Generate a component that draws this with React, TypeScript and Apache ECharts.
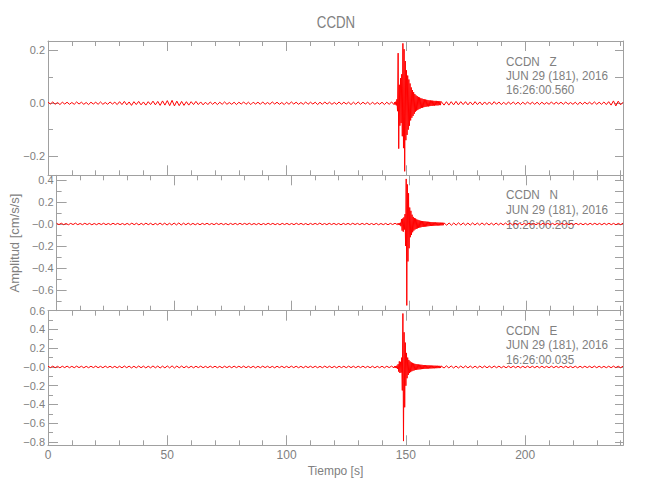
import React, { useEffect, useRef } from "react";
import * as echarts from "echarts";

// ---------- axis definitions ----------
const X_MIN = 0;
const X_MAX = 241;
const X_MAJOR = [0, 50, 100, 150, 200];
const X_MINOR = [10, 20, 30, 40, 60, 70, 80, 90, 110, 120, 130, 140, 160, 170, 180, 190, 210, 220, 230, 240];

// segment starting times / steps (s)
const PRE_START = 0;
const PRE_STEP = 1;
const EVT_START = 145;
const EVT_STEP = 0.25;
const POST_START = 165;
const POST_STEP = 1;

// ---------- Z component (cm/s/s) ----------
const zPre = [
  0.004, -0.003, 0.005, -0.004, 0.003, -0.005, 0.004, -0.003, 0.004, -0.004,
  0.003, -0.004, 0.005, -0.003, 0.004, -0.004, 0.003, -0.005, 0.004, -0.003,
  0.004, -0.004, 0.005, -0.004, 0.003, -0.004, 0.005, -0.003, 0.004, -0.005,
  0.006, -0.005, 0.007, -0.006, 0.005, -0.008, 0.006, -0.005, 0.007, -0.006,
  0.005, -0.007, 0.006, -0.005, 0.008, -0.006, 0.007, -0.008, 0.009, -0.007,
  0.01, -0.009, 0.011, -0.01, 0.008, -0.009, 0.007, -0.008, 0.006, -0.007,
  0.006, -0.005, 0.007, -0.005, 0.005, -0.006, 0.004, -0.005, 0.005, -0.004,
  0.004, -0.005, 0.004, -0.004, 0.005, -0.004, 0.003, -0.004, 0.004, -0.005,
  0.004, -0.003, 0.005, -0.004, 0.004, -0.005, 0.004, -0.003, 0.004, -0.004,
  0.005, -0.004, 0.003, -0.004, 0.005, -0.003, 0.004, -0.004, 0.003, -0.005,
  0.004, -0.004, 0.005, -0.003, 0.004, -0.004, 0.003, -0.004, 0.005, -0.004,
  0.004, -0.003, 0.004, -0.005, 0.004, -0.004, 0.005, -0.003, 0.004, -0.004,
  0.003, -0.004, 0.005, -0.004, 0.004, -0.003, 0.004, -0.005, 0.004, -0.004,
  0.005, -0.004, 0.004, -0.003, 0.004, -0.005, 0.004, -0.004, 0.003, -0.004,
  0.004, -0.005, 0.004, -0.004, 0.005,
];
const zEvt = [
  -0.005, 0.004, -0.005, 0.006, -0.008, 0.015, -0.03, 0.19, -0.172, 0.07,
  -0.085, 0.095, -0.075, 0.11, -0.125, 0.227, -0.17, 0.205, -0.258, 0.16,
  -0.14, 0.125, -0.12, 0.105, -0.1, 0.09, -0.085, 0.075, -0.065, 0.06,
  -0.055, 0.05, -0.048, 0.042, -0.04, 0.035, -0.032, 0.03, -0.028, 0.027,
  -0.025, 0.024, -0.022, 0.022, -0.02, 0.019, -0.018, 0.018, -0.017, 0.016,
  -0.015, 0.015, -0.014, 0.014, -0.013, 0.013, -0.012, 0.012, -0.012, 0.011,
  -0.011, 0.011, -0.01, 0.01, -0.01, 0.01, -0.009, 0.009, -0.009, 0.009,
  -0.008, 0.009, -0.008, 0.008, -0.008, 0.008, -0.007, 0.008, -0.007, 0.007,
];
const zPost = [
  0.007, -0.007, 0.006, -0.007, 0.006, -0.006, 0.007, -0.006, 0.006, -0.005,
  0.006, -0.006, 0.005, -0.006, 0.006, -0.005, 0.005, -0.006, 0.005, -0.005,
  0.005, -0.005, 0.006, -0.004, 0.005, -0.005, 0.004, -0.005, 0.005, -0.004,
  0.005, -0.004, 0.004, -0.005, 0.004, -0.004, 0.005, -0.004, 0.004, -0.004,
  0.004, -0.005, 0.004, -0.004, 0.003, -0.004, 0.005, -0.004, 0.004, -0.003,
  0.004, -0.004, 0.005, -0.004, 0.003, -0.004, 0.004, -0.005, 0.004, -0.004,
  0.004, -0.003, 0.004, -0.004, 0.005, -0.004, 0.004, -0.004, 0.005, -0.005,
  0.006, -0.007, 0.009, -0.01, 0.008, -0.006, 0.004,
];

// ---------- N component ----------
const nPre = [
  0.006, -0.005, 0.007, -0.006, 0.005, -0.007, 0.006, -0.005, 0.008, -0.006,
  0.005, -0.006, 0.007, -0.005, 0.006, -0.007, 0.005, -0.006, 0.006, -0.005,
  0.007, -0.006, 0.005, -0.006, 0.007, -0.005, 0.006, -0.006, 0.005, -0.007,
  0.006, -0.007, 0.008, -0.006, 0.007, -0.008, 0.006, -0.007, 0.008, -0.006,
  0.007, -0.008, 0.006, -0.007, 0.009, -0.007, 0.008, -0.009, 0.007, -0.008,
  0.009, -0.008, 0.01, -0.009, 0.008, -0.007, 0.008, -0.007, 0.006, -0.007,
  0.006, -0.007, 0.006, -0.005, 0.007, -0.006, 0.005, -0.006, 0.007, -0.005,
  0.006, -0.006, 0.005, -0.007, 0.006, -0.005, 0.006, -0.006, 0.007, -0.005,
  0.006, -0.005, 0.007, -0.006, 0.005, -0.006, 0.006, -0.007, 0.005, -0.006,
  0.007, -0.005, 0.006, -0.006, 0.005, -0.007, 0.006, -0.005, 0.006, -0.006,
  0.005, -0.006, 0.007, -0.005, 0.006, -0.006, 0.005, -0.007, 0.006, -0.005,
  0.006, -0.005, 0.009, -0.006, 0.005, -0.006, 0.007, -0.005, 0.006, -0.006,
  0.005, -0.007, 0.006, -0.005, 0.006, -0.006, 0.007, -0.005, 0.006, -0.006,
  0.006, -0.005, 0.007, -0.006, 0.005, -0.006, 0.006, -0.007, 0.005, -0.006,
  0.006, -0.007, 0.006, -0.005, 0.007,
];
const nEvt = [
  -0.006, 0.007, -0.006, 0.008, -0.01, 0.012, -0.02, 0.045, -0.06, 0.05,
  -0.07, 0.06, -0.05, 0.09, -0.2, 0.41, -0.74, 0.36, -0.34, 0.28,
  -0.22, 0.15, -0.12, 0.12, -0.1, 0.085, -0.075, 0.065, -0.06, 0.055,
  -0.05, 0.05, -0.045, 0.042, -0.04, 0.038, -0.035, 0.034, -0.032, 0.03,
  -0.03, 0.028, -0.027, 0.027, -0.026, 0.025, -0.024, 0.024, -0.023, 0.022,
  -0.022, 0.021, -0.02, 0.02, -0.019, 0.019, -0.018, 0.018, -0.017, 0.017,
  -0.016, 0.016, -0.016, 0.015, -0.015, 0.015, -0.014, 0.014, -0.014, 0.014,
  -0.013, 0.013, -0.013, 0.013, -0.012, 0.012, -0.012, 0.012, -0.011, 0.011,
];
const nPost = [
  0.011, -0.011, 0.01, -0.011, 0.01, -0.01, 0.011, -0.009, 0.01, -0.01,
  0.009, -0.01, 0.01, -0.009, 0.009, -0.009, 0.01, -0.008, 0.009, -0.009,
  0.008, -0.009, 0.009, -0.008, 0.008, -0.008, 0.009, -0.007, 0.008, -0.008,
  0.008, -0.007, 0.008, -0.008, 0.007, -0.007, 0.008, -0.007, 0.007, -0.007,
  0.007, -0.007, 0.008, -0.006, 0.007, -0.007, 0.006, -0.007, 0.007, -0.006,
  0.007, -0.006, 0.007, -0.007, 0.006, -0.007, 0.007, -0.006, 0.006, -0.007,
  0.006, -0.007, 0.007, -0.006, 0.007, -0.006, 0.006, -0.007, 0.007, -0.006,
  0.007, -0.006, 0.006, -0.007, 0.006, -0.006, 0.007,
];

// ---------- E component ----------
const ePre = [
  0.008, -0.007, 0.009, -0.008, 0.007, -0.009, 0.008, -0.007, 0.009, -0.008,
  0.007, -0.008, 0.009, -0.007, 0.008, -0.009, 0.007, -0.008, 0.008, -0.007,
  0.009, -0.008, 0.007, -0.008, 0.009, -0.007, 0.008, -0.008, 0.007, -0.009,
  0.008, -0.009, 0.01, -0.008, 0.009, -0.01, 0.008, -0.009, 0.01, -0.008,
  0.009, -0.01, 0.008, -0.009, 0.011, -0.009, 0.01, -0.011, 0.009, -0.01,
  0.011, -0.01, 0.012, -0.011, 0.01, -0.009, 0.01, -0.009, 0.008, -0.009,
  0.008, -0.009, 0.008, -0.007, 0.009, -0.008, 0.007, -0.008, 0.009, -0.007,
  0.008, -0.008, 0.007, -0.009, 0.008, -0.007, 0.008, -0.008, 0.009, -0.007,
  0.008, -0.007, 0.009, -0.008, 0.007, -0.008, 0.008, -0.009, 0.007, -0.008,
  0.009, -0.007, 0.008, -0.008, 0.007, -0.009, 0.008, -0.007, 0.008, -0.008,
  0.007, -0.008, 0.009, -0.007, 0.008, -0.008, 0.007, -0.009, 0.008, -0.007,
  0.008, -0.007, 0.008, -0.008, 0.007, -0.008, 0.009, -0.007, 0.008, -0.008,
  0.007, -0.009, 0.008, -0.007, 0.008, -0.008, 0.009, -0.007, 0.008, -0.008,
  0.008, -0.007, 0.009, -0.008, 0.007, -0.008, 0.008, -0.009, 0.007, -0.008,
  0.008, -0.009, 0.008, -0.007, 0.009,
];
const eEvt = [
  -0.009, 0.008, -0.01, 0.01, -0.012, 0.015, -0.02, 0.03, -0.05, 0.06,
  -0.064, 0.055, -0.06, 0.1, -0.25, 0.57, -0.79, 0.37, -0.43, 0.26,
  -0.2, 0.15, -0.12, 0.1, -0.085, 0.075, -0.065, 0.06, -0.055, 0.05,
  -0.046, 0.044, -0.04, 0.038, -0.036, 0.034, -0.032, 0.031, -0.03, 0.029,
  -0.028, 0.027, -0.026, 0.025, -0.025, 0.024, -0.023, 0.023, -0.022, 0.021,
  -0.021, 0.02, -0.02, 0.019, -0.019, 0.018, -0.018, 0.018, -0.017, 0.017,
  -0.016, 0.016, -0.016, 0.015, -0.015, 0.015, -0.014, 0.014, -0.014, 0.014,
  -0.013, 0.013, -0.013, 0.013, -0.012, 0.012, -0.012, 0.012, -0.011, 0.011,
];
const ePost = [
  0.011, -0.011, 0.012, -0.01, 0.011, -0.011, 0.01, -0.011, 0.01, -0.01,
  0.011, -0.01, 0.01, -0.01, 0.009, -0.01, 0.01, -0.009, 0.01, -0.009,
  0.009, -0.009, 0.01, -0.008, 0.009, -0.009, 0.008, -0.009, 0.009, -0.008,
  0.009, -0.008, 0.008, -0.009, 0.008, -0.008, 0.009, -0.008, 0.008, -0.008,
  0.008, -0.009, 0.008, -0.008, 0.007, -0.008, 0.009, -0.008, 0.008, -0.007,
  0.008, -0.008, 0.009, -0.008, 0.007, -0.008, 0.008, -0.009, 0.008, -0.008,
  0.008, -0.007, 0.008, -0.008, 0.009, -0.008, 0.008, -0.008, 0.007, -0.008,
  0.008, -0.008, 0.009, -0.007, 0.008, -0.008, 0.008,
];

// ---------- panel annotations / y ticks ----------
const STATION = "CCDN";
const components = ["Z", "N", "E"];
const dateLabel = "JUN 29 (181), 2016";
const startTimes = ["16:26:00.560", "16:26:00.205", "16:26:00.035"];

const yRanges = [
  [-0.273, 0.236],
  [-0.788, 0.443],
  [-0.835, 0.6],
];
const yMajor = [
  [-0.2, 0, 0.2],
  [-0.6, -0.4, -0.2, 0, 0.2, 0.4],
  [-0.8, -0.6, -0.4, -0.2, 0, 0.2, 0.4, 0.6],
];
const yMinor = [
  [-0.1, 0.1],
  [-0.7, -0.5, -0.3, -0.1, 0.1, 0.3],
  [-0.7, -0.5, -0.3, -0.1, 0.1, 0.3, 0.5],
];
const zeroLabels = ["0.0", "\u22120.0", "\u22120.0"];

const FONT = "'Liberation Sans', Arial, sans-serif";
const TEXT_COLOR = "#808080";
const AXIS_COLOR = "#a0a0a0";
const WAVE_COLOR = "#ff0000";

// grid geometry
const GRID_LEFT = 48;
const GRID_RIGHT = 27;
const GRID_TOPS = [41, 175.3, 310.7];
const GRID_HEIGHTS = [134.3, 135.4, 134.6];
const ANNOT_X = 506;
const ANNOT_Y = [
  [62, 76, 90],
  [195, 210, 225],
  [331, 345, 360],
];

function buildSeries(pre: number[], evt: number[], post: number[]) {
  const out: number[][] = [];
  pre.forEach((v, i) => out.push([PRE_START + i * PRE_STEP, v]));
  evt.forEach((v, i) => out.push([EVT_START + i * EVT_STEP, v]));
  post.forEach((v, i) => out.push([POST_START + i * POST_STEP, v]));
  return out;
}

const waves = [
  buildSeries(zPre, zEvt, zPost),
  buildSeries(nPre, nEvt, nPost),
  buildSeries(ePre, eEvt, ePost),
];

function fmt(v: number, zero: string) {
  if (Math.abs(v) < 1e-9) return zero;
  return (v < 0 ? "\u2212" : "") + Math.abs(v).toFixed(1);
}

function buildOption() {
  const grid: any[] = [];
  const xAxis: any[] = [];
  const yAxis: any[] = [];
  const series: any[] = [];
  const graphic: any[] = [];

  for (let p = 0; p < 3; p++) {
    grid.push({ left: GRID_LEFT, right: GRID_RIGHT, top: GRID_TOPS[p], height: GRID_HEIGHTS[p] });
    const isBottom = p === 2;
    const xBase = {
      gridIndex: p,
      type: "value",
      min: X_MIN,
      max: X_MAX,
      splitLine: { show: false },
    };
    const mainX = xAxis.length;
    xAxis.push({
      ...xBase,
      position: "bottom",
      axisLine: { show: true, onZero: false, lineStyle: { color: AXIS_COLOR, width: 1 } },
      axisTick: { show: true, inside: true, length: 10, customValues: X_MAJOR, lineStyle: { color: AXIS_COLOR } },
      axisLabel: {
        show: isBottom,
        customValues: X_MAJOR,
        color: TEXT_COLOR,
        fontFamily: FONT,
        fontSize: 12,
        margin: 4,
      },
      name: isBottom ? "Tiempo [s]" : "",
      nameLocation: "middle",
      nameGap: 20,
      nameTextStyle: { color: TEXT_COLOR, fontFamily: FONT, fontSize: 12 },
    });
    xAxis.push({
      ...xBase,
      position: "bottom",
      axisLine: { show: false, onZero: false },
      axisTick: { show: true, inside: true, length: 5, customValues: X_MINOR, lineStyle: { color: AXIS_COLOR } },
      axisLabel: { show: false },
    });
    xAxis.push({
      ...xBase,
      position: "top",
      axisLine: { show: true, onZero: false, lineStyle: { color: AXIS_COLOR, width: 1 } },
      axisTick: { show: true, inside: true, length: 10, customValues: X_MAJOR, lineStyle: { color: AXIS_COLOR } },
      axisLabel: { show: false },
    });
    xAxis.push({
      ...xBase,
      position: "top",
      axisLine: { show: false, onZero: false },
      axisTick: { show: true, inside: true, length: 5, customValues: X_MINOR, lineStyle: { color: AXIS_COLOR } },
      axisLabel: { show: false },
    });

    const yBase = {
      gridIndex: p,
      type: "value",
      min: yRanges[p][0],
      max: yRanges[p][1],
      splitLine: { show: false },
    };
    const mainY = yAxis.length;
    yAxis.push({
      ...yBase,
      position: "left",
      axisLine: { show: true, onZero: false, lineStyle: { color: AXIS_COLOR, width: 1 } },
      axisTick: { show: true, inside: true, length: 10, customValues: yMajor[p], lineStyle: { color: AXIS_COLOR } },
      axisLabel: {
        show: true,
        customValues: yMajor[p],
        formatter: (v: number) => fmt(v, zeroLabels[p]),
        color: TEXT_COLOR,
        fontFamily: FONT,
        fontSize: 11,
        margin: 3,
      },
      name: p === 1 ? "Amplitud [cm/s/s]" : "",
      nameLocation: "middle",
      nameGap: 29,
      nameRotate: 90,
      nameTextStyle: { color: TEXT_COLOR, fontFamily: FONT, fontSize: 13 },
    });
    yAxis.push({
      ...yBase,
      position: "left",
      axisLine: { show: false, onZero: false },
      axisTick: { show: true, inside: true, length: 5, customValues: yMinor[p], lineStyle: { color: AXIS_COLOR } },
      axisLabel: { show: false },
    });
    yAxis.push({
      ...yBase,
      position: "right",
      axisLine: { show: true, onZero: false, lineStyle: { color: AXIS_COLOR, width: 1 } },
      axisTick: {
        show: true,
        inside: true,
        length: 8,
        customValues: [...yMajor[p], ...yMinor[p]].sort((a, b) => a - b),
        lineStyle: { color: AXIS_COLOR },
      },
      axisLabel: { show: false },
    });

    series.push({
      type: "line",
      xAxisIndex: mainX,
      yAxisIndex: mainY,
      data: waves[p],
      showSymbol: false,
      symbol: "none",
      silent: true,
      lineStyle: { color: WAVE_COLOR, width: 1 },
    });

    const lines = [`${STATION}   ${components[p]}`, dateLabel, startTimes[p]];
    lines.forEach((t, i) => {
      graphic.push({
        type: "text",
        x: ANNOT_X,
        y: ANNOT_Y[p][i],
        scaleX: 0.9,
        silent: true,
        style: { text: t, fill: TEXT_COLOR, font: `13px ${FONT}`, align: "left", verticalAlign: "middle" },
      });
    });
  }

  graphic.push({
    type: "text",
    x: 336,
    y: 22,
    scaleX: 0.78,
    silent: true,
    style: { text: STATION, fill: TEXT_COLOR, font: `17px ${FONT}`, align: "center", verticalAlign: "middle" },
  });

  return {
    animation: false,
    backgroundColor: "#ffffff",
    grid,
    xAxis,
    yAxis,
    series,
    graphic,
  };
}

export default function App() {
  const ref = useRef<HTMLDivElement>(null);
  useEffect(() => {
    if (!ref.current) return;
    const chart = echarts.init(ref.current, null, { renderer: "svg" });
    chart.setOption(buildOption() as any);
    return () => chart.dispose();
  }, []);
  return (
    <div
      ref={ref}
      style={{ position: "fixed", left: 0, top: 0, width: 650, height: 500, background: "#fff" }}
    />
  );
}
